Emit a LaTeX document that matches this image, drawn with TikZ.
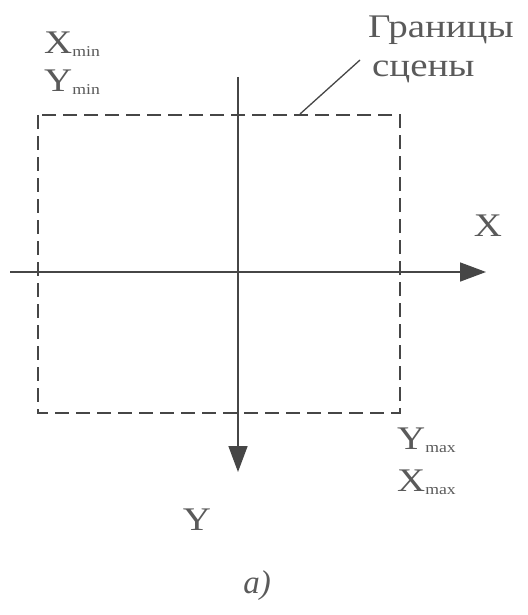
\documentclass[tikz,border=0pt]{standalone}
\usepackage{fontspec}
\usepackage{graphicx}
\setmainfont{Liberation Serif}
\usetikzlibrary{arrows.meta}
\definecolor{ink}{RGB}{70,70,70}
\definecolor{txt}{RGB}{90,90,90}
\newcommand{\wid}[1]{\scalebox{1.18}[1]{#1}}
\newcommand{\sbs}[1]{\raisebox{-3pt}{\fontsize{15}{15}\selectfont #1}}
\tikzset{
  lbl/.style={text=txt, font=\fontsize{33}{33}\selectfont, inner sep=0pt},
  axis/.style={draw=ink, line width=1.6pt, -{Triangle[length=26pt,width=19pt]}},
  bound/.style={draw=ink, line width=1.5pt, dash pattern=on 14pt off 7pt}
}
\begin{document}
\begin{tikzpicture}[x=1pt,y=-1pt]
\useasboundingbox (0,0) rectangle (527,615);
% boundary
\draw[bound] (38,115) rectangle (400,413);
% axes
\coordinate (xs) at (10,272);
\coordinate (xe) at (486,272);
\coordinate (ys) at (238,77);
\coordinate (ye) at (238,472);
\draw[axis] (xs) -- (xe);
\draw[axis] (ys) -- (ye);
% leader
\coordinate (l1) at (300,114);
\coordinate (l2) at (360,60);
\draw[ink, line width=1.3pt] (l1) -- (l2);
% labels
\node[lbl, anchor=west] (xmin) at (44,44) {\wid{X\sbs{min}}};
\node[lbl, anchor=west] (ymin) at (44,82) {\wid{Y\sbs{min}}};
\node[lbl, anchor=west] (gr1) at (368,30) {\wid{Границы}};
\node[lbl, anchor=west] (gr2) at (372,72) {\wid{сцены}};
\node[lbl] (xl) at (488,226) {\wid{X}};
\node[lbl, anchor=west] (ymax) at (397,440) {\wid{Y\sbs{max}}};
\node[lbl, anchor=west] (xmax) at (397,482) {\wid{X\sbs{max}}};
\node[lbl] (yl) at (197,520) {\wid{Y}};
\node[lbl] (al) at (257,586) {\itshape а)};
\end{tikzpicture}
\end{document}
